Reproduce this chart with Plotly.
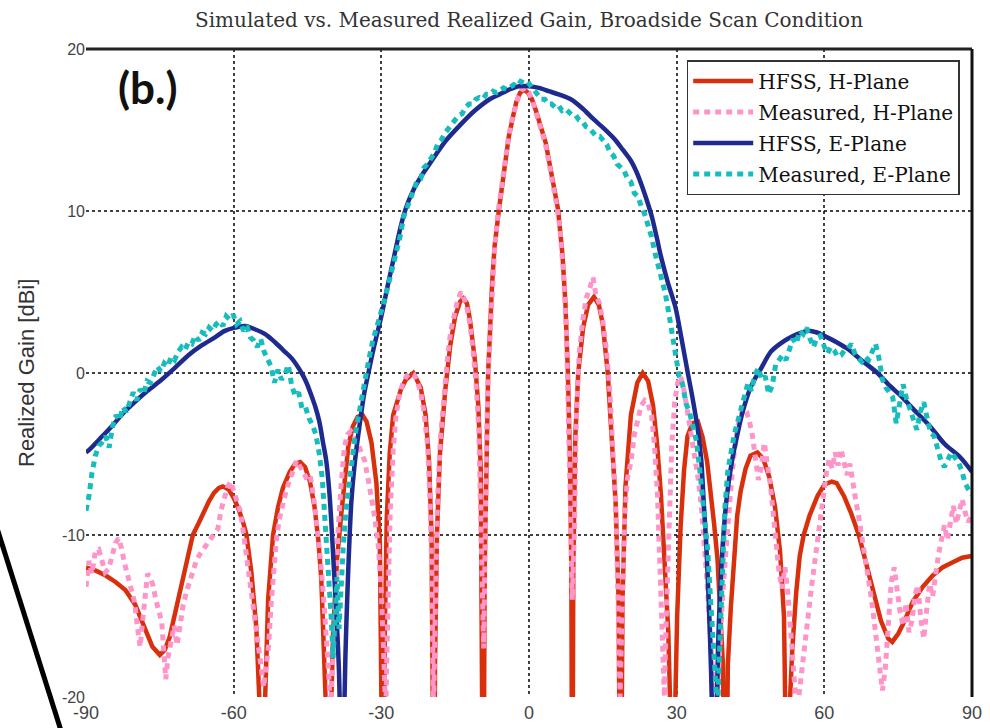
import plotly.graph_objects as go

# ---- pattern cuts: (angle [deg], realized gain [dBi]) ----
hfss_h_plane = [
    (-90, -12.0), (-88, -12.2), (-86, -12.5), (-84, -12.9), (-82, -13.4), (-80, -14.3),
    (-78, -15.8), (-76.5, -16.9), (-75, -17.4), (-74, -17.1), (-73, -16.3), (-72, -15.0),
    (-71, -13.8), (-70.3, -12.8), (-69, -11.1), (-68.3, -10.0), (-67, -9.2), (-66, -8.5),
    (-65, -7.9), (-64, -7.4), (-63, -7.1), (-62.2, -7.0), (-61, -7.2), (-60, -7.7),
    (-59, -8.4), (-58, -9.3), (-57.4, -10.0), (-56.4, -12.3), (-55.4, -15.7), (-54.8, -20),
    (-54.2, -32), (-53.6, -20), (-53, -14), (-52, -10), (-51, -8.3), (-50, -7.1),
    (-48.6, -6.1), (-47.5, -5.6), (-46.5, -5.5), (-45.5, -5.8), (-44.5, -6.7), (-43.6, -8.2),
    (-42.8, -10.3), (-42.2, -12.7), (-41.6, -16.8), (-41.1, -22), (-40.7, -32), (-40.3, -22),
    (-39.8, -16), (-39, -11.5), (-38.1, -8.6), (-37.4, -6.2), (-36.7, -4.5), (-35.8, -3.3),
    (-34.8, -2.7), (-33.8, -2.6), (-33, -3.0), (-32, -4.3), (-31, -6.8), (-30.3, -10.5),
    (-29.9, -16), (-29.6, -32), (-29.3, -16), (-28.9, -9), (-28.3, -5), (-27.6, -2.6),
    (-26, -1.0), (-25, -0.4), (-23.5, 0.0), (-22, -0.9), (-21, -2.6), (-20.3, -5.5),
    (-19.8, -10), (-19.5, -18), (-19.3, -32), (-19.1, -18), (-18.7, -10), (-18.1, -5),
    (-17, -1.0), (-16, 1.7), (-15, 3.5), (-14, 4.4), (-13.3, 4.6), (-12.6, 4.3),
    (-12, 3.3), (-11, 0.8), (-10.3, -2), (-9.8, -6), (-9.5, -12), (-9.3, -32),
    (-9.0, -12), (-8.6, -4), (-8.3, 0), (-7.5, 5.5), (-7.0, 7.8), (-6.1, 10.1),
    (-5, 12.7), (-4.1, 14.6), (-3.2, 15.9), (-2.6, 16.7), (-1.8, 17.3), (-1, 17.5),
    (-0.2, 17.3), (0.6, 16.9), (1.4, 16.2), (2.4, 15.3), (3.4, 14.2), (4.5, 12.4),
    (5.9, 10.1), (6.8, 7.3), (7.4, 4.3), (7.9, 0), (8.3, -5), (8.6, -12),
    (8.8, -32), (9.0, -12), (9.4, -4), (10, 0), (11, 2.8), (12, 4.2),
    (13.2, 4.7), (14.2, 4.2), (15, 3.0), (16, 0), (16.8, -3.5), (17.6, -8),
    (18.2, -14), (18.6, -32), (19.0, -14), (19.6, -7), (20.7, -2.6), (22, -0.6),
    (23.1, 0), (24.2, -0.5), (25.2, -2.0), (26, -4.3), (26.8, -7.5), (27.6, -11.5),
    (28.3, -16), (28.8, -22), (29.2, -32), (29.6, -22), (30.1, -15), (30.8, -9.5),
    (31.5, -6), (32.2, -3.9), (33.2, -3.1), (34.3, -3.0), (35.3, -4.0), (36.2, -5.5),
    (36.9, -7.3), (37.6, -9.3), (38.3, -11.5), (38.9, -14.5), (39.4, -18), (39.9, -32),
    (40.4, -18), (41, -14.5), (41.6, -11.5), (42.3, -8.8), (43, -7.3), (44, -5.9),
    (45, -5.1), (46.4, -4.9), (47.6, -5.3), (48.8, -6.4), (50, -8.3), (51, -11),
    (51.8, -15), (52.3, -21), (52.6, -32), (52.9, -21), (53.5, -17), (54.3, -13.5),
    (55, -11.3), (55.8, -10), (57, -8.8), (58.6, -7.6), (60, -6.9), (61.5, -6.7),
    (62.5, -6.8), (64, -7.6), (65.5, -8.7), (67, -10.0), (68.5, -11.8), (70, -13.7),
    (71.5, -15.3), (73, -16.4), (73.8, -16.6), (75, -16.1), (76, -15.5), (78, -14.1),
    (80, -13.2), (82, -12.5), (84, -12.0), (86, -11.7), (88, -11.4), (90, -11.3),
]

measured_h_plane = [
    (-90, -13.2), (-89.4, -11.6), (-88.8, -12.4), (-88.1, -11.0), (-87.4, -10.9), (-86.8, -11.6),
    (-86.1, -12.3), (-85.4, -12.1), (-84.7, -11.2), (-84.0, -10.5), (-83.4, -10.2), (-82.8, -10.8),
    (-82.2, -11.7), (-81.5, -12.6), (-80.8, -13.4), (-80.1, -14.2), (-79.5, -15.8), (-79.0, -16.9),
    (-78.5, -15.3), (-78.0, -14.0), (-77.5, -12.4), (-77.0, -12.6), (-76.4, -13.1), (-75.8, -14.0),
    (-75.2, -14.6), (-74.6, -15.4), (-74.2, -17.2), (-73.8, -18.9), (-73.3, -17.5), (-72.7, -16.5),
    (-72.1, -15.6), (-71.5, -16.8), (-70.9, -15.4), (-70.3, -14.4), (-69.6, -13.5), (-69.0, -12.9),
    (-68.3, -12.1), (-67.6, -11.6), (-66.9, -11.2), (-66.2, -10.9), (-65.4, -10.6), (-64.6, -10.2),
    (-63.8, -9.9), (-63.2, -9.6), (-62.6, -8.5), (-62.0, -7.7), (-61.3, -7.1), (-60.6, -6.7),
    (-60.0, -7.3), (-59.3, -8.0), (-58.6, -8.6), (-58.0, -9.9), (-57.4, -11.2), (-56.8, -12.6),
    (-56.2, -14.0), (-55.6, -15.4), (-55.0, -16.8), (-54.4, -18.2), (-53.9, -19.4), (-53.4, -18.0),
    (-52.9, -16.8), (-52.4, -14.3), (-51.9, -12.2), (-51.3, -10.2), (-50.7, -9.0), (-50.0, -8.0),
    (-49.3, -7.2), (-48.6, -6.6), (-47.9, -5.9), (-47.2, -5.4), (-46.5, -5.8), (-45.8, -6.1),
    (-45.1, -6.6), (-44.4, -6.4), (-43.7, -7.8), (-43.0, -9.5), (-42.4, -11.4), (-41.8, -13.6),
    (-41.2, -15.9), (-40.7, -18.5), (-40.3, -21), (-39.9, -17.5), (-39.4, -13.5), (-38.8, -9.8),
    (-38.2, -7.0), (-37.5, -4.6), (-36.9, -3.8), (-36.2, -3.6), (-35.5, -3.9), (-34.8, -4.3),
    (-34.1, -4.9), (-33.4, -5.4), (-32.7, -6.5), (-32.0, -7.6), (-31.3, -9.0), (-30.6, -10.7),
    (-30.0, -13.5), (-29.5, -17.5), (-29.1, -21), (-28.7, -15), (-28.2, -8.5), (-27.6, -4.8),
    (-27.0, -2.6), (-26.3, -1.3), (-25.6, -0.6), (-24.9, -0.2), (-24.1, 0.0), (-23.4, -0.1),
    (-22.7, -0.5), (-22.0, -1.2), (-21.3, -2.5), (-20.6, -4.5), (-20.1, -8), (-19.7, -13),
    (-19.4, -21), (-19.0, -14), (-18.6, -8), (-18.0, -4), (-17.3, -1.4), (-16.6, 0.8),
    (-15.9, 2.6), (-15.2, 3.7), (-14.5, 4.5), (-13.8, 5.0), (-13.2, 4.6), (-12.6, 4.0),
    (-12.0, 3.0), (-11.4, 1.5), (-10.8, -0.5), (-10.2, -3.5), (-9.8, -7.5), (-9.5, -13),
    (-9.2, -17), (-8.9, -9), (-8.6, -3.5), (-8.2, 0.5), (-7.6, 4.8), (-7.0, 7.6),
    (-6.3, 9.9), (-5.6, 11.6), (-4.9, 13.0), (-4.2, 14.5), (-3.5, 15.6), (-2.8, 16.5),
    (-2.1, 17.1), (-1.4, 17.5), (-0.7, 17.6), (0.0, 17.3), (0.7, 16.8), (1.4, 16.1),
    (2.1, 15.5), (2.8, 14.7), (3.5, 13.9), (4.2, 12.8), (4.9, 11.6), (5.6, 10.4),
    (6.3, 8.9), (7.0, 6.2), (7.6, 2.5), (8.0, -2), (8.4, -8), (8.8, -14),
    (9.2, -10), (9.6, -3), (10.2, 1.2), (10.9, 3.2), (11.6, 4.6), (12.3, 5.2),
    (13.0, 5.9), (13.6, 4.8), (14.3, 4.3), (15.0, 3.2), (15.7, 1.5), (16.4, -1.0),
    (17.0, -4), (17.6, -8), (18.1, -14), (18.5, -20), (18.9, -15), (19.4, -9),
    (20.0, -6.5), (20.7, -5.5), (21.4, -3.8), (22.1, -2.7), (22.8, -2.0), (23.5, -1.7),
    (24.2, -1.9), (24.9, -2.6), (25.5, -4.5), (26.1, -7.5), (26.6, -11.5), (27.1, -16),
    (27.5, -20), (27.9, -15), (28.4, -9), (29.0, -4.5), (29.6, -1.8), (30.2, -0.6),
    (30.8, -0.2), (31.4, -0.9), (32.0, -2.0), (32.6, -3.1), (33.2, -4.2), (33.8, -5.3),
    (34.4, -6.6), (35.0, -8.2), (35.6, -10.4), (36.2, -13.0), (36.8, -16.0), (37.3, -19.0),
    (37.8, -21), (38.3, -19.5), (38.8, -16.5), (39.4, -13.5), (40.0, -11.0), (40.6, -8.5),
    (41.2, -6.4), (41.8, -4.6), (42.4, -3.3), (43.0, -2.6), (43.6, -2.2), (44.2, -2.4),
    (44.8, -3.0), (45.4, -3.9), (46.0, -5.2), (46.6, -6.6), (47.2, -5.8), (47.8, -4.3),
    (48.4, -5.6), (49.0, -6.8), (49.6, -8.6), (50.2, -10.5), (50.8, -12.3), (51.4, -13.3),
    (52.0, -12.0), (52.6, -13.6), (53.2, -16.0), (53.8, -19.4), (54.4, -21), (55.0, -19.5),
    (55.6, -17.8), (56.2, -16.2), (56.8, -14.6), (57.4, -13.2), (58.0, -11.8), (58.6, -10.4),
    (59.2, -8.9), (59.8, -7.4), (60.4, -6.2), (61.0, -5.3), (61.6, -5.9), (62.2, -4.9),
    (62.8, -5.7), (63.4, -4.7), (64.0, -5.5), (64.6, -6.3), (65.2, -5.6), (65.8, -7.0),
    (66.4, -7.9), (67.0, -8.9), (67.6, -10.0), (68.2, -11.1), (68.8, -12.3), (69.4, -13.6),
    (70.0, -15.0), (70.6, -16.5), (71.2, -18.0), (71.8, -19.6), (72.4, -18.2), (73.0, -15.5),
    (73.6, -12.9), (74.2, -12.0), (74.8, -13.4), (75.4, -14.8), (76.0, -15.6), (76.6, -14.2),
    (77.2, -16.0), (77.8, -15.3), (78.4, -13.7), (79.0, -13.1), (79.6, -15.2), (80.2, -16.4),
    (80.8, -14.6), (81.4, -13.0), (82.0, -13.8), (82.6, -12.4), (83.2, -11.2), (83.8, -10.3),
    (84.4, -9.4), (85.0, -10.3), (85.6, -9.0), (86.2, -8.2), (86.8, -9.3), (87.4, -8.5),
    (88.0, -7.8), (88.6, -8.6), (89.2, -9.2), (90.0, -8.8),
]

hfss_e_plane = [
    (-90, -4.9), (-89.2, -4.7), (-87, -4.0), (-84.8, -3.3), (-82.5, -2.5), (-80.1, -1.8),
    (-77.5, -1.1), (-74.6, -0.4), (-72, 0.3), (-69.2, 1.1), (-66.5, 1.7), (-63.8, 2.2),
    (-61.8, 2.6), (-59.7, 2.8), (-57.7, 2.9), (-55.7, 2.7), (-53.6, 2.4), (-51.6, 1.9),
    (-49.9, 1.4), (-48.2, 0.9), (-46.2, 0.0), (-45.2, -0.6), (-44.2, -1.4), (-43.4, -2.1),
    (-42.6, -3.0), (-41.9, -4.2), (-41.2, -5.4), (-40.6, -7.2), (-40.2, -9.0), (-39.6, -12.3),
    (-39.1, -15.0), (-38.6, -18.5), (-38.2, -24), (-38.0, -32), (-37.7, -24), (-37.3, -17.5),
    (-36.8, -12.8), (-36.1, -8.0), (-35.3, -5.3), (-34.5, -3.4), (-33.5, -1.3), (-32.7, -0.1),
    (-31.5, 1.6), (-30.0, 3.5), (-28.7, 5.4), (-27.4, 7.2), (-26.4, 8.6), (-25.5, 9.7),
    (-24.5, 10.6), (-23.3, 11.4), (-22.0, 12.1), (-20.0, 13.0), (-17.0, 14.3), (-14.0, 15.3),
    (-11.0, 16.2), (-8.0, 16.9), (-6.0, 17.2), (-4.0, 17.5), (-2.0, 17.7), (0.0, 17.7),
    (2.0, 17.6), (4.0, 17.4), (6.0, 17.2), (8.5, 16.9), (11.0, 16.3), (13.0, 15.7),
    (15.2, 15.1), (17.5, 14.4), (19.0, 13.8), (20.7, 13.1), (22.0, 12.3), (23.0, 11.5),
    (24.0, 10.6), (25.0, 9.6), (26.0, 8.3), (26.8, 7.2), (28.2, 5.6), (29.8, 4.0),
    (31.0, 2.1), (32.2, 0.1), (33.2, -1.5), (34.3, -3.5), (35.0, -5.4), (35.5, -8.0),
    (36.0, -10.5), (36.5, -14.0), (37.0, -18.5), (37.4, -24), (37.7, -32), (38.0, -24),
    (38.4, -17), (39.0, -12.5), (39.5, -10.0), (40.2, -7.6), (41.2, -5.5), (42.4, -3.7),
    (43.5, -2.3), (45.0, -0.9), (46.0, -0.3), (47.0, 0.2), (49.1, 1.3), (51.0, 1.8),
    (52.5, 2.1), (54.5, 2.4), (56.6, 2.6), (58.5, 2.5), (60.6, 2.2), (62.5, 1.9),
    (64.7, 1.5), (67.5, 0.8), (70.8, 0.0), (73.0, -0.7), (75.5, -1.4), (78.0, -2.2),
    (81.5, -3.3), (84.5, -4.4), (87.6, -5.2), (90.0, -6.1),
]

measured_e_plane = [
    (-90, -8.5), (-89.4, -7.6), (-88.8, -6.2), (-88.1, -5.1), (-87.4, -4.5), (-86.8, -4.3),
    (-86.0, -3.9), (-85.3, -4.6), (-84.6, -3.3), (-83.9, -2.6), (-83.2, -2.9), (-82.5, -2.1),
    (-81.8, -2.4), (-81.1, -1.7), (-80.4, -1.2), (-79.7, -1.7), (-79.0, -1.0), (-78.3, -1.3),
    (-77.6, -0.5), (-76.9, -0.6), (-76.2, -0.1), (-75.5, 0.4), (-74.8, 0.1), (-74.1, 0.6),
    (-73.4, 0.4), (-72.7, 1.0), (-72.0, 0.8), (-71.3, 1.3), (-70.6, 1.6), (-69.9, 1.4),
    (-69.2, 1.9), (-68.5, 1.8), (-67.8, 2.3), (-67.1, 2.0), (-66.4, 2.5), (-65.7, 2.4),
    (-65.0, 2.8), (-64.3, 2.6), (-63.6, 3.0), (-62.9, 3.2), (-62.2, 2.9), (-61.5, 3.5),
    (-60.8, 3.3), (-60.1, 3.6), (-59.4, 3.0), (-58.7, 3.2), (-58.0, 2.6), (-57.3, 2.9),
    (-56.6, 2.2), (-55.9, 2.0), (-55.2, 1.6), (-54.5, 2.1), (-53.8, 1.3), (-53.1, 0.9),
    (-52.4, 0.4), (-51.7, -0.6), (-51.0, 0.2), (-50.3, -0.4), (-49.6, -0.1), (-48.9, 0.5),
    (-48.2, -0.8), (-47.5, -1.4), (-46.8, -1.2), (-46.1, -2.2), (-45.4, -2.1), (-44.7, -2.8),
    (-44.0, -3.2), (-43.3, -3.8), (-42.6, -5.0), (-42.0, -6.5), (-41.5, -8.8), (-41.0, -10.4),
    (-40.6, -12.5), (-40.2, -15.0), (-39.8, -17.6), (-39.4, -14.2), (-39.0, -12.6), (-38.6, -15.8),
    (-38.2, -13.0), (-37.7, -10.5), (-37.2, -8.5), (-36.6, -6.8), (-36.0, -5.3), (-35.3, -3.8),
    (-34.6, -2.6), (-33.9, -1.3), (-33.2, -0.2), (-32.5, 0.9), (-31.8, 1.9), (-31.1, 2.6),
    (-30.4, 3.3), (-29.7, 4.1), (-29.0, 4.9), (-28.3, 5.8), (-27.6, 6.6), (-26.9, 7.5),
    (-26.2, 8.4), (-25.5, 9.6), (-24.8, 10.2), (-24.1, 10.9), (-23.4, 11.3), (-22.7, 11.9),
    (-22.0, 12.0), (-21.3, 12.7), (-20.6, 12.9), (-19.9, 13.3), (-19.2, 13.6), (-18.5, 14.2),
    (-17.8, 14.4), (-17.1, 14.8), (-16.4, 15.1), (-15.7, 15.3), (-15.0, 15.7), (-14.3, 15.9),
    (-13.6, 16.0), (-12.9, 16.4), (-12.2, 16.6), (-11.5, 16.6), (-10.8, 16.9), (-10.1, 17.0),
    (-9.4, 16.9), (-8.7, 17.2), (-8.0, 17.2), (-7.3, 17.4), (-6.6, 17.3), (-5.9, 17.5),
    (-5.2, 17.6), (-4.5, 17.5), (-3.8, 17.7), (-3.1, 17.8), (-2.4, 17.7), (-1.7, 18.0),
    (-1.0, 17.9), (-0.3, 18.0), (0.4, 17.7), (1.1, 17.4), (1.8, 17.2), (2.5, 16.9),
    (3.2, 16.9), (3.9, 16.6), (4.6, 16.6), (5.3, 16.4), (6.0, 16.5), (6.7, 16.2),
    (7.4, 16.3), (8.1, 16.1), (8.8, 15.9), (9.5, 15.9), (10.2, 15.6), (10.9, 15.5),
    (11.6, 15.2), (12.3, 15.1), (13.0, 14.9), (13.7, 14.6), (14.4, 14.6), (15.1, 14.3),
    (15.8, 14.1), (16.5, 13.6), (17.2, 13.4), (17.9, 12.9), (18.6, 12.7), (19.3, 12.5),
    (20.0, 12.0), (20.7, 11.8), (21.4, 11.1), (22.1, 10.9), (22.8, 10.3), (23.5, 9.8),
    (24.2, 9.1), (24.9, 8.4), (25.6, 7.4), (26.3, 6.6), (27.0, 5.5), (27.7, 4.9),
    (28.4, 3.7), (29.1, 2.5), (29.8, 1.0), (30.5, -0.2), (31.2, -0.7), (31.9, -1.9),
    (32.6, -2.4), (33.3, -3.5), (34.0, -4.2), (34.6, -5.7), (35.2, -7.3), (35.8, -9.2),
    (36.3, -10.9), (36.8, -13.5), (37.3, -16.4), (37.8, -19.5), (38.3, -21), (38.8, -16.5),
    (39.3, -12.0), (39.8, -8.3), (40.4, -6.0), (41.0, -4.9), (41.7, -3.8), (42.4, -3.0),
    (43.1, -2.1), (43.8, -1.3), (44.5, -0.6), (45.2, -1.1), (45.9, -0.1), (46.6, 0.3),
    (47.3, -0.4), (48.0, -0.2), (48.7, -1.3), (49.4, -0.8), (50.1, 0.5), (50.8, 0.8),
    (51.5, 1.1), (52.2, 0.8), (52.9, 1.6), (53.6, 2.1), (54.3, 1.8), (55.0, 2.6),
    (55.7, 2.4), (56.4, 2.8), (57.1, 2.1), (57.8, 1.6), (58.5, 2.2), (59.2, 2.3),
    (59.9, 1.7), (60.6, 1.2), (61.3, 1.6), (62.0, 1.4), (62.7, 1.0), (63.4, 1.1),
    (64.1, 1.4), (64.8, 1.5), (65.5, 1.8), (66.2, 1.2), (66.9, 0.9), (67.6, 0.7),
    (68.3, 1.0), (69.0, 0.8), (69.7, 1.3), (70.4, 1.8), (71.1, 0.9), (71.8, -0.4),
    (72.5, -0.9), (73.2, -1.2), (73.9, -1.5), (74.6, -3.1), (75.3, -1.8), (76.0, -0.7),
    (76.7, -1.6), (77.4, -2.3), (78.1, -3.0), (78.8, -3.5), (79.5, -2.4), (80.2, -1.8),
    (80.9, -2.8), (81.6, -3.7), (82.3, -3.9), (83.0, -4.6), (83.7, -5.4), (84.4, -5.8),
    (85.1, -5.3), (85.8, -4.9), (86.5, -5.2), (87.2, -5.5), (87.9, -6.0), (88.6, -6.8),
    (89.3, -7.2), (90.0, -7.5),
]

x_ticks = [-90, -60, -30, 0, 30, 60, 90]
y_ticks = [-20, -10, 0, 10, 20]

# name, data, colour, width, dash, line shape
series = [
    ("HFSS, H-Plane", hfss_h_plane, "#d8300c", 4.5, "solid", "linear"),
    ("Measured, H-Plane", measured_h_plane, "#ff94c8", 5, "6px,5px", "linear"),
    ("HFSS, E-Plane", hfss_e_plane, "#1e2a8e", 4.5, "solid", "spline"),
    ("Measured, E-Plane", measured_e_plane, "#17bdbd", 5, "6px,5px", "linear"),
]

fig = go.Figure()
for i, (name, pts, color, width, dash, shape) in enumerate(series):
    ang, gain = zip(*pts)
    line = dict(color=color, width=width, dash=dash, shape=shape)
    if shape == "spline":
        line["smoothing"] = 0.8
    fig.add_trace(go.Scatter(
        x=list(ang), y=list(gain), mode="lines", name=name,
        line=line, legendgroup=f"g{i}",
    ))

serif = "DejaVu Serif"
sans = "Liberation Sans, Arial, sans-serif"

fig.update_layout(
    width=990, height=728,
    margin=dict(l=86, r=18, t=49, b=31),
    paper_bgcolor="white", plot_bgcolor="white",
    title=dict(
        text="Simulated vs. Measured Realized Gain, Broadside Scan Condition",
        x=0.5, xref="paper", xanchor="center",
        y=1 - 20 / 728, yanchor="middle",
        font=dict(family=serif, size=20, color="#333333"),
    ),
    showlegend=True,
    legend=dict(
        x=0.678, y=0.983, xanchor="left", yanchor="top",
        bgcolor="white", bordercolor="#333333", borderwidth=1.5,
        font=dict(family=serif, size=20, color="#111111"),
        itemwidth=60, tracegroupgap=2, traceorder="grouped",
    ),
    xaxis=dict(
        range=[-90, 90], tickvals=x_ticks, ticktext=[str(v) for v in x_ticks],
        showgrid=True, gridcolor="rgba(0,0,0,0.75)", gridwidth=1.5, griddash="3px,3px",
        zeroline=False, showline=False, ticks="", ticklabelstandoff=3,
        automargin=False,
        tickfont=dict(family=sans, size=18, color="#444444"),
    ),
    yaxis=dict(
        range=[-20, 20], tickvals=y_ticks, ticktext=[str(v) for v in y_ticks],
        showgrid=True, gridcolor="rgba(0,0,0,0.75)", gridwidth=1.5, griddash="3px,3px",
        zeroline=False, showline=False, ticks="", automargin=False,
        tickfont=dict(family=sans, size=16, color="#444444"),
    ),
)

# frame: heavy top and right edges only
fig.add_shape(type="line", xref="paper", yref="paper", x0=0, x1=1, y0=1, y1=1,
              line=dict(color="#222222", width=3), layer="above")
fig.add_shape(type="line", xref="paper", yref="paper", x0=1, x1=1, y0=0, y1=1,
              line=dict(color="#111111", width=3), layer="above")
# callout stroke in the lower-left corner
fig.add_shape(type="line", xref="paper", yref="paper",
              x0=-0.1005, y0=0.2608, x1=-0.02596, y1=-0.0617,
              line=dict(color="black", width=5), layer="above")

fig.add_annotation(text="Realized Gain [dBi]", textangle=-90,
                   xref="paper", yref="paper", x=(26 - 86) / 886, y=0.5,
                   xanchor="center", yanchor="middle", showarrow=False,
                   font=dict(family=sans, size=22, color="#333333"))
fig.add_annotation(text="<b>(b.)</b>", xref="paper", yref="paper",
                   x=(148 - 86) / 886, y=(697 - 87) / 648,
                   xanchor="center", yanchor="middle", showarrow=False,
                   font=dict(family="Lato, Open Sans, sans-serif", size=44, color="#111111"))

fig.write_html("out.html")
